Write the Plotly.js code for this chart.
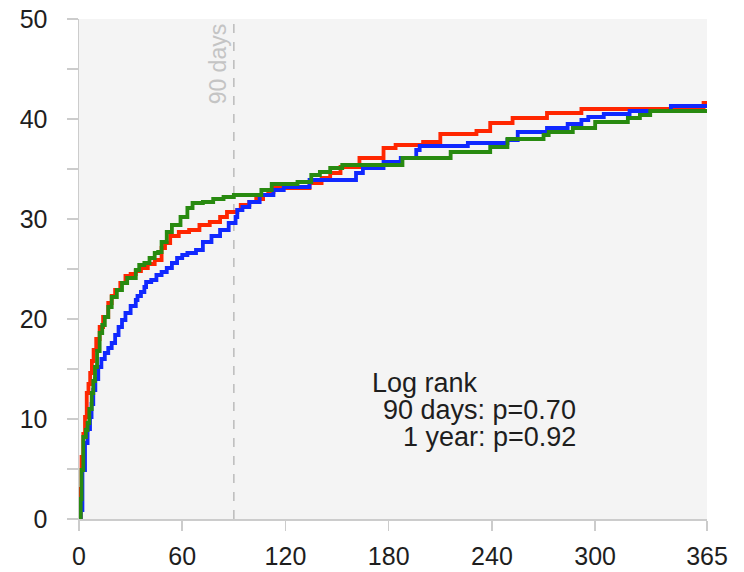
<!DOCTYPE html>
<html>
<head>
<meta charset="utf-8">
<script src="https://cdn.plot.ly/plotly-3.0.1.min.js"></script>
<style>
  html, body { margin: 0; padding: 0; background: #fff; }
  #chart { width: 744px; height: 572px; }
</style>
</head>
<body>
<div id="chart"></div>
<script>
// ---- data ----
const redDays = [0,1,1.5,2.5,3.5,4.5,5.5,6.5,7.5,8.5,10,12,14,17,19,21,24,27,30,33,36,40,44,48,50,53,58,64,70,76,82,86,92,94,99,103,107,110,113,134,141,146,152,163,177,184,200,210,231,239,252,272,292,363,365];
const redVals = [0,3,6.2,8.5,10.2,12.6,13.5,14.6,15.8,16.9,18,19.2,20.2,21.6,22.3,22.9,23.6,24.3,24.5,24.8,25.1,25.5,25.9,27.1,27.6,28.3,28.7,28.9,29.4,29.7,30.2,30.7,30.9,31.4,31.7,32.0,32.4,32.7,33.1,33.6,34.1,34.6,35.2,36.1,37.1,37.4,37.7,38.5,38.8,39.6,40.1,40.6,41.0,41.6,41.6];

const blueDays = [0,1,2,3.5,5,6.4,7.3,8.3,9.5,11.2,13,15,17,19,21,23,25,27,30,33,34,36,38,39,42,45,48,51,54,57,60,63,68,72,77,82,87,91,92,95,99,105,113,119,134,161,165,177,187,196,198,226,249,255,272,284,292,296,305,320,344,365];
const blueVals = [0,0.9,4.9,7.6,9,10.2,11.5,12.9,14,15.2,16,16.6,17.1,17.6,18.4,19.2,19.9,20.6,21.3,21.9,22.3,22.7,23.2,23.7,23.9,24.4,24.7,25.1,25.6,26.1,26.4,26.6,26.9,27.7,28.3,28.9,29.6,30.2,30.9,31.2,31.7,32.4,32.9,33.2,33.9,34.6,35.1,35.7,36.1,36.9,37.3,37.6,37.9,38.7,39.1,39.5,39.9,40.2,40.5,40.8,41.3,41.3];

const greenDays = [0,1,1.5,2.5,4,5,6,7.4,8.3,9.3,10.5,12,13.5,15,17,19,22,25,28,33,35,38,41,44,46,48,51,54,59,63,66,72,78,84,90,106,112,127,135,140,146,153,188,216,239,249,270,273,287,300,319,326,332,365];
const greenVals = [0,2,4.9,8.2,8.9,9.6,11,12.6,13.8,15.2,16.8,18.6,19.4,20.2,21.2,22.2,22.9,23.6,24.1,24.9,25.4,25.6,26.1,26.6,26.7,27.7,28.7,29.4,30.2,31.1,31.6,31.7,32.0,32.2,32.4,32.9,33.5,33.7,34.4,34.7,35.1,35.4,36.1,36.7,37.2,38.0,38.4,38.7,39.1,39.7,40.1,40.4,40.8,40.8];

const xTickVals = [0,60,120,180,240,300,365];
const xTickText = ['0','60','120','180','240','300','365'];
const yTickVals = [0,10,20,30,40,50];
const markerDay = 90;
const markerLabel = '90 days';
const logRankLines = ['Log rank','90 days: p=0.70','1 year: p=0.92'];

// ---- chart ----
function series(x, y, color) {
  return { x: x, y: y, type: 'scatter', mode: 'lines',
           line: { shape: 'hv', color: color, width: 3.8 },
           hoverinfo: 'skip', showlegend: false };
}

const traces = [
  series(redDays, redVals, 'rgb(255,38,0)'),
  series(blueDays, blueVals, 'rgb(16,40,255)'),
  series(greenDays, greenVals, 'rgb(40,138,16)')
];

const layout = {
  width: 744, height: 572,
  margin: { l: 79, r: 37, t: 19, b: 53 },
  paper_bgcolor: '#ffffff',
  plot_bgcolor: '#f4f4f4',
  font: { family: 'Liberation Sans, Arial, sans-serif', color: '#222' },
  showlegend: false,
  xaxis: {
    range: [0, 365], tickmode: 'array', tickvals: xTickVals, ticktext: xTickText,
    showgrid: false, zeroline: false, showline: true, linecolor: '#cccccc', linewidth: 1.5,
    ticks: 'outside', ticklen: 10, tickcolor: '#cccccc', tickwidth: 1.5,
    tickfont: { size: 25, color: '#1e1e1e' }, ticklabelstandoff: 4
  },
  yaxis: {
    range: [0, 50], tickmode: 'array', tickvals: yTickVals,
    showgrid: false, zeroline: false, showline: true, linecolor: '#cccccc', linewidth: 1.5,
    ticks: 'outside', ticklen: 11, tickcolor: '#cccccc', tickwidth: 1.5,
    minor: { dtick: 5, ticks: 'outside', ticklen: 11, tickcolor: '#cccccc', tickwidth: 1.5, showgrid: false },
    tickfont: { size: 25, color: '#1e1e1e' }, ticklabelstandoff: 14
  },
  shapes: [{
    type: 'line', xref: 'x', yref: 'y', x0: markerDay, x1: markerDay, y0: 0, y1: 50,
    line: { color: '#bbbbbb', width: 1.5, dash: 'dash' }, layer: 'below'
  }],
  annotations: [
    { x: markerDay, y: 50, xref: 'x', yref: 'y', text: markerLabel, textangle: -90,
      xanchor: 'right', yanchor: 'top', showarrow: false, xshift: -1, yshift: -2,
      font: { size: 23, color: '#c4c4c4' } },
    { x: 169, y: 13.6, xref: 'x', yref: 'y', text: logRankLines[0], xanchor: 'left', yanchor: 'middle',
      showarrow: false, font: { size: 27, color: '#1e1e1e' } },
    { x: 290, y: 10.9, xref: 'x', yref: 'y', text: logRankLines[1], xanchor: 'right', yanchor: 'middle',
      showarrow: false, font: { size: 27, color: '#1e1e1e' } },
    { x: 290, y: 8.2, xref: 'x', yref: 'y', text: logRankLines[2], xanchor: 'right', yanchor: 'middle',
      showarrow: false, font: { size: 27, color: '#1e1e1e' } }
  ]
};

Plotly.newPlot('chart', traces, layout, { displayModeBar: false, staticPlot: true });
</script>
</body>
</html>
